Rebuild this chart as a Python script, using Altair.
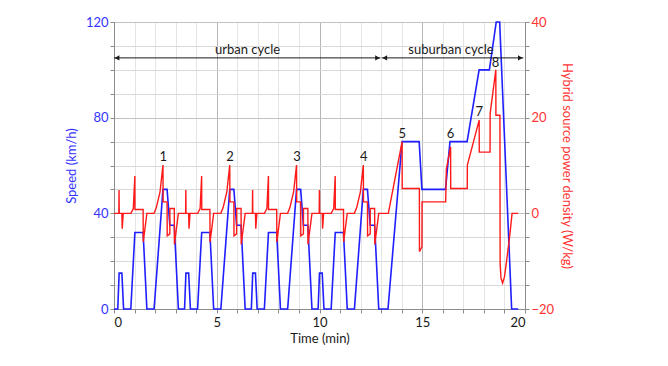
import altair as alt
import pandas as pd

# ---------------- data ----------------
# Vehicle speed (km/h) versus time (min): 4 urban cycles + suburban cycle
speed_t = [0, 0.183, 0.25, 0.383, 0.467, 0.817, 1.017, 1.417, 1.6, 1.95, 2.383, 2.583, 2.717, 2.933, 3.133,
           3.25, 3.433, 3.5, 3.633, 3.717, 4.067, 4.267, 4.667, 4.85, 5.2, 5.633, 5.833, 5.967, 6.183, 6.383,
           6.5, 6.683, 6.75, 6.883, 6.967, 7.317, 7.517, 7.917, 8.1, 8.45, 8.883, 9.083, 9.217, 9.433, 9.633,
           9.75, 9.933, 10.0, 10.133, 10.217, 10.567, 10.767, 11.167, 11.35, 11.7, 12.133, 12.333, 12.467, 12.683, 12.883,
           13.0, 13.333, 14.017, 14.85, 14.983, 16.133, 16.35, 17.183, 17.767, 18.267, 18.6, 18.767, 19.35, 19.667]
speed_v = [0, 0, 15, 15, 0, 0, 32, 32, 0, 0, 50, 50, 35, 35, 0,
           0, 0, 15, 15, 0, 0, 32, 32, 0, 0, 50, 50, 35, 35, 0,
           0, 0, 15, 15, 0, 0, 32, 32, 0, 0, 50, 50, 35, 35, 0,
           0, 0, 15, 15, 0, 0, 32, 32, 0, 0, 50, 50, 35, 35, 0,
           0, 0, 70, 70, 50, 50, 70, 70, 100, 100, 120, 120, 0, 0]

# Hybrid source power density (W/kg) versus time (min)
power_t = [0, 0.235, 0.245, 0.255, 0.383, 0.40, 0.45, 0.82, 0.94, 1.015, 1.02, 1.417, 1.425, 1.6, 1.95,
           2.06, 2.24, 2.383, 2.39, 2.583, 2.59, 2.717, 2.72, 2.933, 2.94, 3.133,
           3.485, 3.495, 3.505, 3.633, 3.65, 3.70, 4.07, 4.19, 4.265, 4.27, 4.667, 4.675, 4.85, 5.2,
           5.31, 5.49, 5.633, 5.64, 5.833, 5.84, 5.967, 5.97, 6.183, 6.19, 6.383,
           6.735, 6.745, 6.755, 6.883, 6.90, 6.95, 7.32, 7.44, 7.515, 7.52, 7.917, 7.925, 8.1, 8.45,
           8.56, 8.74, 8.883, 8.89, 9.083, 9.09, 9.217, 9.22, 9.433, 9.44, 9.633,
           9.985, 9.995, 10.005, 10.133, 10.15, 10.20, 10.57, 10.69, 10.765, 10.77, 11.167, 11.175, 11.35, 11.7,
           11.81, 11.99, 12.133, 12.14, 12.333, 12.34, 12.467, 12.47, 12.683, 12.69, 12.883,
           13.35, 14.02, 14.025, 14.86, 14.865, 14.95, 14.985, 14.99, 16.14, 16.17, 16.38, 16.385,
           17.19, 17.195, 17.77, 17.775, 18.30, 18.305, 18.58, 18.585, 18.78, 18.79, 18.83, 18.91,
           19.0, 19.11, 19.27, 19.37, 19.667]
power_v = [0, 0, 4.9, 0, 0, -3.2, 0, 0, 1.0, 7.8, 0.8, 0.8, -6.0, 0, 0,
           1.2, 4.5, 10.1, 2.4, 2.4, -4.7, -4.3, 1.0, 1.0, -6.5, 0,
           0, 4.9, 0, 0, -3.2, 0, 0, 1.0, 7.8, 0.8, 0.8, -6.0, 0, 0,
           1.2, 4.5, 10.1, 2.4, 2.4, -4.7, -4.3, 1.0, 1.0, -6.5, 0,
           0, 4.9, 0, 0, -3.2, 0, 0, 1.0, 7.8, 0.8, 0.8, -6.0, 0, 0,
           1.2, 4.5, 10.1, 2.4, 2.4, -4.7, -4.3, 1.0, 1.0, -6.5, 0,
           0, 4.9, 0, 0, -3.2, 0, 0, 1.0, 7.8, 0.8, 0.8, -6.0, 0, 0,
           1.2, 4.5, 10.1, 2.4, 2.4, -4.7, -4.3, 1.0, 1.0, -6.5, 0,
           0, 15.0, 5.2, 5.2, -8.0, -7.3, -7.0, 2.4, 2.4, 9.2, 13.9, 5.2,
           5.2, 10.1, 19.5, 12.8, 12.8, 20.9, 30.0, 20.5, 20.5, -10.5, -13.5, -14.6,
           -13.3, -9.8, -4.2, 0, 0]

# Peak labels (placed on the power-density scale)
peak_labels = ["1", "2", "3", "4", "5", "6", "7", "8"]
peak_t = [2.40, 5.65, 8.90, 12.15, 14.03, 16.38, 17.77, 18.57]
peak_p = [11.8, 11.8, 11.8, 11.8, 16.6, 16.6, 21.2, 31.4]

# Cycle annotation (on the speed scale)
cycle_names = ["urban cycle", "suburban cycle"]
cycle_start = [0.0, 13.03]
cycle_end = [12.97, 19.92]
cycle_mid = [6.5, 16.4]
cycle_arrow_speed = [105, 105]
cycle_text_speed = [108.5, 108.5]

# ---------------- styling ----------------
FONT = "Lato"
BLUE_LINE = "#1f1fff"
BLUE_TEXT = "#3333ff"
RED_LINE = "#ff1a1a"
RED_TEXT = "#ff3333"
AXIS_GREY = "#8c8c8c"

speed_df = pd.DataFrame({"t": speed_t, "v": speed_v})
power_df = pd.DataFrame({"t": power_t, "p": power_v})
peaks_df = pd.DataFrame({"t": peak_t, "p": peak_p, "lab": peak_labels})
cyc_df = pd.DataFrame({"name": cycle_names, "t0": cycle_start, "t1": cycle_end,
                       "tm": cycle_mid, "ya": cycle_arrow_speed, "yt": cycle_text_speed})

x_scale = alt.Scale(domain=[0, 20], nice=False, zero=False)
ys_speed = alt.Scale(domain=[0, 120], nice=False)
ys_power = alt.Scale(domain=[-20, 40], nice=False)

x_axis = alt.Axis(
    values=list(range(0, 21)),
    labelExpr="datum.value % 5 === 0 ? datum.label : ''",
    title="Time (min)", titleFontWeight="normal", titleFontSize=13, titleFont=FONT,
    titleColor="#1a1a1a", titlePadding=3,
    labelFont=FONT, labelFontSize=13, labelColor="#1a1a1a", labelPadding=3,
    tickSize=4, tickColor=AXIS_GREY, domainColor=AXIS_GREY,
    grid=True,
    gridColor={"condition": {"test": "datum.value % 5 === 0", "value": "#b5b5b5"}, "value": "#e4e4e4"},
)

left_axis = alt.Axis(
    orient="left",
    values=list(range(0, 121, 10)),
    labelExpr="datum.value % 40 === 0 ? datum.label : ''",
    title="Speed (km/h)", titleFontWeight="normal", titleFontSize=13, titleFont=FONT,
    titleColor=BLUE_TEXT, titlePadding=7,
    labelFont=FONT, labelFontSize=13, labelColor=BLUE_TEXT, labelPadding=2,
    tickSize=4, tickColor=AXIS_GREY, domainColor=AXIS_GREY,
    grid=True,
    gridColor={"condition": {"test": "datum.value % 40 === 0", "value": "#c2c2c2"}, "value": "#d9d9d9"},
)

right_axis = alt.Axis(
    orient="right",
    values=list(range(-20, 41, 5)),
    labelExpr="datum.value % 20 === 0 ? datum.label : ''",
    title="Hybrid source power density (W/kg)", titleFontWeight="normal", titleFontSize=13,
    titleFont=FONT, titleColor=RED_TEXT, titlePadding=6,
    labelFont=FONT, labelFontSize=13, labelColor=RED_TEXT, labelPadding=2,
    tickSize=4, tickColor=AXIS_GREY, domainColor=AXIS_GREY,
    grid=False,
)

# speed group (all layers share the left axis definition)
speed_line = alt.Chart(speed_df).mark_line(color=BLUE_LINE, strokeWidth=1.6).encode(
    x=alt.X("t:Q", scale=x_scale, axis=x_axis),
    y=alt.Y("v:Q", scale=ys_speed, axis=left_axis),
    order="t:Q",
)
arrows = alt.Chart(cyc_df).mark_rule(color="#1a1a1a", strokeWidth=1).encode(
    x=alt.X("t0:Q", scale=x_scale, axis=x_axis), x2="t1:Q",
    y=alt.Y("ya:Q", scale=ys_speed, axis=left_axis)
)
head_l = alt.Chart(cyc_df).mark_point(shape="triangle-left", filled=True, color="#1a1a1a",
                                       size=30, opacity=1, xOffset=3).encode(
    x=alt.X("t0:Q", scale=x_scale, axis=x_axis), y=alt.Y("ya:Q", scale=ys_speed, axis=left_axis)
)
head_r = alt.Chart(cyc_df).mark_point(shape="triangle-right", filled=True, color="#1a1a1a",
                                       size=30, opacity=1, xOffset=-3).encode(
    x=alt.X("t1:Q", scale=x_scale, axis=x_axis), y=alt.Y("ya:Q", scale=ys_speed, axis=left_axis)
)
cyc_text = alt.Chart(cyc_df).mark_text(font=FONT, fontSize=13, color="#1a1a1a", baseline="middle").encode(
    x=alt.X("tm:Q", scale=x_scale, axis=x_axis), y=alt.Y("yt:Q", scale=ys_speed, axis=left_axis),
    text="name:N"
)
speed_group = alt.layer(speed_line, arrows, head_l, head_r, cyc_text)

# power group (shares the right axis definition)
power_line = alt.Chart(power_df).mark_line(color=RED_LINE, strokeWidth=1.4).encode(
    x=alt.X("t:Q", scale=x_scale, axis=x_axis),
    y=alt.Y("p:Q", scale=ys_power, axis=right_axis),
    order="t:Q",
)
peak_text = alt.Chart(peaks_df).mark_text(font=FONT, fontSize=13, color="#1a1a1a", baseline="middle").encode(
    x=alt.X("t:Q", scale=x_scale, axis=x_axis), y=alt.Y("p:Q", scale=ys_power, axis=right_axis),
    text="lab:N"
)
power_group = alt.layer(power_line, peak_text)

chart = alt.layer(speed_group, power_group).resolve_scale(y="independent").properties(
    width=411, height=287,
    autosize=alt.AutoSizeParams(type="none"),
    padding={"left": 106, "top": 14, "right": 130, "bottom": 45},
).configure_view(stroke=None).configure(background="white")

chart.save("out.html", embed_options={"renderer": "svg", "actions": False})
